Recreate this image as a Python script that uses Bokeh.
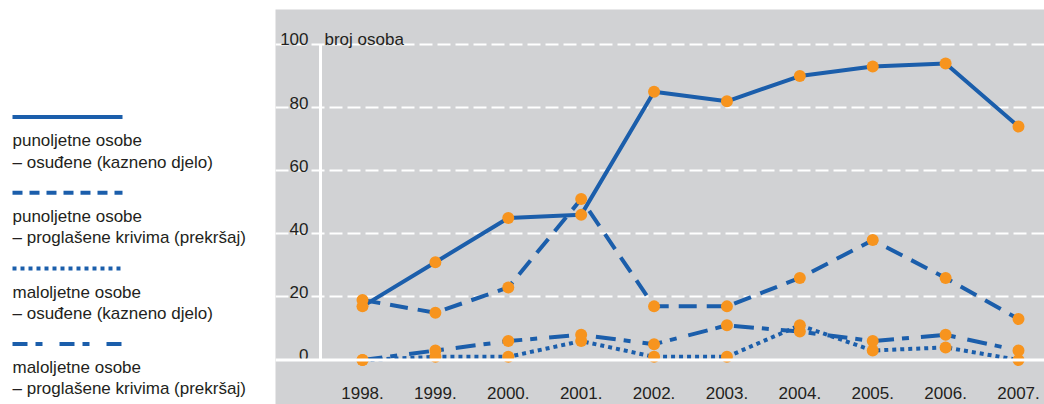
from bokeh.plotting import figure
from bokeh.models import Range1d, FixedTicker, Span, Grid
from bokeh.layouts import row
from bokeh.embed import file_html
from bokeh.resources import INLINE
from bokeh.core.properties import value

# ---- data ----
years = [1998, 1999, 2000, 2001, 2002, 2003, 2004, 2005, 2006, 2007]
year_labels = [f"{y}." for y in years]
adults_convicted = [17, 31, 45, 46, 85, 82, 90, 93, 94, 74]
adults_offence = [19, 15, 23, 51, 17, 17, 26, 38, 26, 13]
minors_convicted = [0, 1, 1, 6, 1, 1, 11, 3, 4, 0]
minors_offence = [0, 3, 6, 8, 5, 11, 9, 6, 8, 3]
y_ticks = [0, 20, 40, 60, 80, 100]
y_title = "broj osoba"
legend_texts = [
    ("punoljetne osobe", "– osuđene (kazneno djelo)"),
    ("punoljetne osobe", "– proglašene krivima (prekršaj)"),
    ("maloljetne osobe", "– osuđene (kazneno djelo)"),
    ("maloljetne osobe", "– proglašene krivima (prekršaj)"),
]

# ---- styles ----
GRAY = "#d1d2d4"
BLUE = "#1b5eab"
ORANGE = "#f7941e"
TEXT = "#231f20"
FONT = value("Liberation Sans, Arial, sans-serif")
FS = "17px"

series = [adults_convicted, adults_offence, minors_convicted, minors_offence]
main_dashes = ["solid", "18 10", "4 4", "20 8 7 12"]
legend_dashes = ["solid", "10 7", "4 4", "15 8 7 17"]

# ---- main plot ----
p = figure(width=769, height=404,
           x_range=Range1d(1996.8064, 2007.3567),
           y_range=Range1d(-14.10, 111.09),
           output_backend="svg", toolbar_location=None,
           x_axis_location=None, y_axis_location=None,
           min_border=0, min_border_top=9, background_fill_color=GRAY,
           border_fill_color="white", outline_line_color=None)
for g in p.grid:
    g.visible = False

grid = Grid(dimension=1, ticker=FixedTicker(ticks=y_ticks[1:]),
            grid_line_color="white", grid_line_width=2, grid_line_dash="13 5")
p.add_layout(grid)
p.add_layout(Span(location=y_ticks[0], dimension="width",
                  line_color="white", line_width=3))

AX = 1997.4238   # y-axis line position
TX = 1997.2591   # tick label right edge
XL_Y = -10.3     # baseline of year labels
p.segment(x0=[AX], y0=[min(y_ticks)], x1=[AX], y1=[max(y_ticks)],
          line_color="white", line_width=3)

p.text(x=[TX] * len(y_ticks), y=y_ticks, text=[str(t) for t in y_ticks],
       text_align="right", text_baseline="alphabetic", y_offset=-5,
       text_font=FONT, text_font_size=FS, text_color=TEXT)
p.text(x=[AX], y=[max(y_ticks)], text=[y_title], x_offset=4, y_offset=-5,
       text_align="left", text_baseline="alphabetic",
       text_font=FONT, text_font_size=FS, text_color=TEXT)
p.text(x=years, y=[XL_Y] * len(years), text=year_labels,
       text_align="center", text_baseline="alphabetic",
       text_font=FONT, text_font_size=FS, text_color=TEXT)

for vals, dash in zip(series, main_dashes):
    p.line(years, vals, line_color=BLUE, line_width=4, line_dash=dash)
for vals in series:
    p.scatter(years, vals, size=12, fill_color=ORANGE, line_color=None)

# ---- legend panel ----
lf = figure(width=275, height=404, x_range=Range1d(0, 275), y_range=Range1d(404, 0),
            output_backend="svg", toolbar_location=None,
            x_axis_location=None, y_axis_location=None,
            min_border=0, background_fill_color="white",
            border_fill_color="white", outline_line_color=None)
for g in lf.grid:
    g.visible = False

sample_y = [110, 187.5, 265, 342]
for (t1, t2), dash, sy in zip(legend_texts, legend_dashes, sample_y):
    lf.line(x=[12, 122], y=[sy, sy], line_color=BLUE, line_width=4, line_dash=dash)
    lf.text(x=[12, 12], y=[sy + 24, sy + 46], text=[t1, t2],
            text_align="left", text_baseline="alphabetic",
            text_font=FONT, text_font_size=FS, text_color=TEXT)

layout = row(lf, p, spacing=0)
open("out.html", "w").write(file_html(layout, INLINE))
